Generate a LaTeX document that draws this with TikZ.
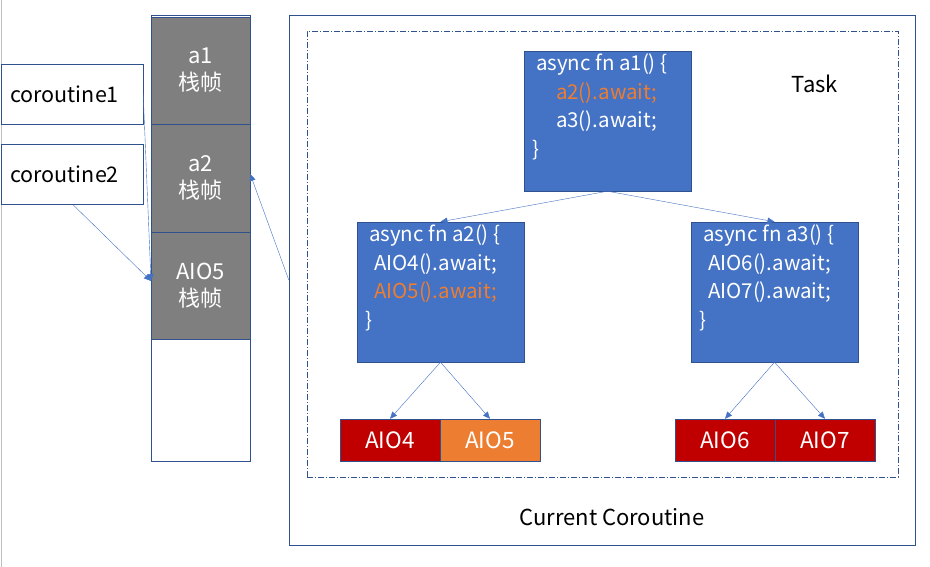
\documentclass[tikz,border=0pt]{standalone}
\usepackage{fontspec}
\setmainfont{Noto Sans CJK SC}
\usetikzlibrary{arrows.meta}
\definecolor{fblue}{HTML}{4472C4}
\definecolor{dblue}{HTML}{2F528F}
\definecolor{fred}{HTML}{C00000}
\definecolor{forange}{HTML}{ED7D31}
\definecolor{fgray}{HTML}{7F7F7F}
\begin{document}
\begin{tikzpicture}[x=1pt,y=-1pt,
  code/.style={draw=dblue,fill=fblue,minimum width=167pt,minimum height=140pt,inner sep=0pt},
  codetxt/.style={anchor=north west,align=left,text=white,font=\fontsize{20.5}{28.5}\selectfont,inner sep=0pt},
  aio/.style={draw=dblue,minimum width=100pt,minimum height=42pt,inner sep=0pt,text=white,font=\fontsize{22.5}{24}\selectfont},
  frame/.style={draw=dblue,fill=fgray,minimum width=99pt,minimum height=107.5pt,inner sep=0pt,text=white,align=center,font=\fontsize{22}{27}\selectfont},
  corbox/.style={draw=dblue,minimum width=142pt,minimum height=60pt,inner sep=0pt},
  arr/.style={draw=fblue,-{Triangle[length=7pt,width=6pt]}},
  lbl/.style={font=\fontsize{22}{24}\selectfont,inner sep=0pt}
]
\useasboundingbox (0,0) rectangle (930,567);
\fill[white] (0,0) rectangle (930,567);
\draw[gray!50] (1,0) -- (1,567);
% stack
\node[draw=dblue,minimum width=99pt,minimum height=446pt,inner sep=0pt] (stack) at (200.5,238) {};
\node[frame] (f1) at (200.5,70.5) {a1\\栈帧};
\node[frame] (f2) at (200.5,178) {a2\\栈帧};
\node[frame] (f3) at (200.5,285.5) {AIO5\\栈帧};
% coroutine boxes
\node[corbox] (c1) at (72,94) {};
\node[lbl,anchor=west,font=\fontsize{21.5}{24}\selectfont] (c1t) at (10,94) {coroutine1};
\node[corbox] (c2) at (72,174.5) {};
\node[lbl,anchor=west,font=\fontsize{21.5}{24}\selectfont] (c2t) at (10,174.5) {coroutine2};
% outer
\node[draw=dblue,minimum width=626pt,minimum height=530pt,inner sep=0pt] (outer) at (602,280) {};
\node[draw=dblue,dash pattern=on 6pt off 2pt on 1pt off 2pt,minimum width=591pt,minimum height=446pt,inner sep=0pt] (task) at (602.5,254) {};
\node[lbl] (tasklbl) at (815,84) {Task};
\node[lbl] (curlbl) at (612,517) {Current Coroutine};
% code boxes
\node[code] (a1) at (607.5,121) {};
\node[codetxt] (a1t) at ([xshift=12pt,yshift=-3pt]a1.north west) {async fn a1() \{\\\hspace{20pt}\textcolor{forange}{a2().await;}\\\hspace{20pt}a3().await;\\\hspace{-4pt}\}};
\node[code] (a2) at (440.5,292) {};
\node[codetxt] (a2t) at ([xshift=12pt,yshift=-3pt]a2.north west) {async fn a2() \{\\\hspace{5pt}AIO4().await;\\\hspace{5pt}\textcolor{forange}{AIO5().await;}\\\hspace{-4pt}\}};
\node[code] (a3) at (774.5,292) {};
\node[codetxt] (a3t) at ([xshift=12pt,yshift=-3pt]a3.north west) {async fn a3() \{\\\hspace{5pt}AIO6().await;\\\hspace{5pt}AIO7().await;\\\hspace{-4pt}\}};
% aio boxes
\node[aio,fill=fred] (aio4) at (390,440) {AIO4};
\node[aio,fill=forange] (aio5) at (490,440) {AIO5};
\node[aio,fill=fred] (aio6) at (725,440) {AIO6};
\node[aio,fill=fred] (aio7) at (825,440) {AIO7};
% arrows
\draw[arr] (a1.south) -- (a2.north);
\draw[arr] (a1.south) -- (a3.north);
\draw[arr] (a2.south) -- (aio4.north);
\draw[arr] (a2.south) -- (aio5.north);
\draw[arr] (a3.south) -- (aio6.north);
\draw[arr] (a3.south) -- (aio7.north);
\coordinate (cin) at (151,281);
\draw[arr] (c1.east) -- (cin);
\draw[arr] ([xshift=1pt]c2.south) -- (cin);
\draw[arr] (outer.west) -- ([yshift=4pt]f2.east);
\end{tikzpicture}
\end{document}
